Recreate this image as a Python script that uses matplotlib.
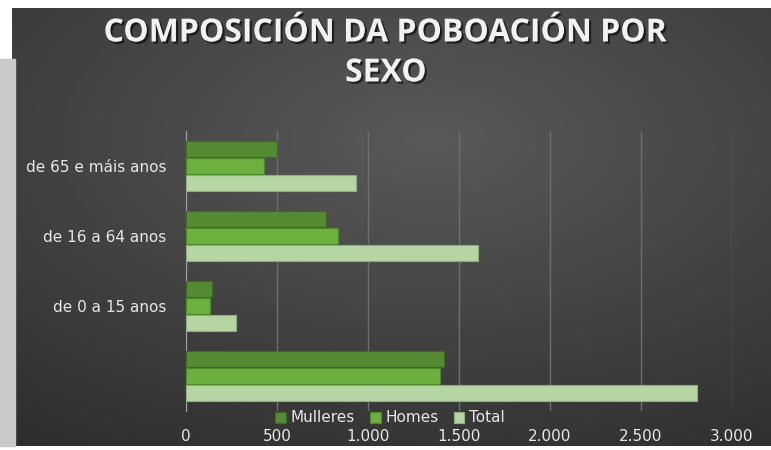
import numpy as np
import matplotlib.pyplot as plt
import matplotlib.patheffects as pe

categorias = ["", "de 0 a 15 anos", "de 16 a 64 anos", "de 65 e máis anos"]
mulleres = [1418, 143, 769, 500]
homes = [1396, 132, 835, 428]
total = [2808, 275, 1604, 934]

cor_mul = "#548a31"
cor_hom = "#6cb03e"
cor_tot = "#b5d6a3"

fig = plt.figure(figsize=(7.71, 4.5), dpi=100)
fig.patch.set_facecolor("white")

# sombra gris a esquerda
fig.patches.append(plt.Rectangle((0, 0.01), 0.02, 0.86, transform=fig.transFigure,
                                 color="#c9c9c9", zorder=0))

# fondo con degradado
bg = fig.add_axes([12 / 771, 4 / 450, 1 - 12 / 771, 1 - 12 / 450])
yy, xx = np.mgrid[0:1:200j, 0:1:300j]
d = np.sqrt(((xx - 0.55) / 1.1) ** 2 + ((yy - 0.7) / 1.0) ** 2)
bg.imshow(0.35 - 0.2 * d, cmap="gray", vmin=0, vmax=1, aspect="auto",
          extent=[0, 1, 0, 1], origin="lower")
bg.axis("off")

ax = fig.add_axes([186 / 771, 39 / 450, 546 / 771, 280 / 450])
ax.patch.set_alpha(0)
y = np.arange(len(categorias))
h = 0.235
kw = dict(height=h, linewidth=0.8, zorder=3)
ax.barh(y - h * 1.05, total, color=cor_tot, edgecolor="#8fae7f", label="Total", **kw)
ax.barh(y, homes, color=cor_hom, edgecolor="#4f8a2a", label="Homes", **kw)
ax.barh(y + h * 1.05, mulleres, color=cor_mul, edgecolor="#3e6b22", label="Mulleres", **kw)

ax.set_xlim(0, 3000)
ax.set_ylim(-0.5, 3.5)
ax.set_xticks(range(0, 3001, 500))
ax.set_xticklabels(["0", "500", "1.000", "1.500", "2.000", "2.500", "3.000"])
ax.set_yticks(y)
ax.set_yticklabels(categorias)
ax.tick_params(axis="x", length=0, pad=13, labelsize=11, labelcolor="#e8e8e8")
ax.tick_params(axis="y", length=0, pad=14, labelsize=11, labelcolor="#e8e8e8")
ax.grid(axis="x", color="#6e6e6e", linewidth=1, zorder=0)
for s in ["top", "right", "bottom"]:
    ax.spines[s].set_visible(False)
ax.spines["left"].set_color("#a0a0a0")

handles, labels = ax.get_legend_handles_labels()
leg = fig.legend(handles[::-1], labels[::-1], loc="center", bbox_to_anchor=(390 / 771, 1 - 418 / 450),
                 ncol=3, frameon=False, fontsize=11, handlelength=0.7, handleheight=0.7,
                 handletextpad=0.3, columnspacing=1.0, labelcolor="#e8e8e8")

sombra = [pe.withSimplePatchShadow(offset=(1.5, -1.5), shadow_rgbFace="black", alpha=0.6)]
for txt, yp in [("COMPOSICIÓN DA POBOACIÓN POR", 33), ("SEXO", 73)]:
    fig.text(386 / 771, 1 - yp / 450, txt, ha="center", va="center", fontsize=23,
             fontweight="bold", color="#f2f2f2", family="Open Sans",
             path_effects=sombra)

fig.savefig("out.png", dpi=100)
